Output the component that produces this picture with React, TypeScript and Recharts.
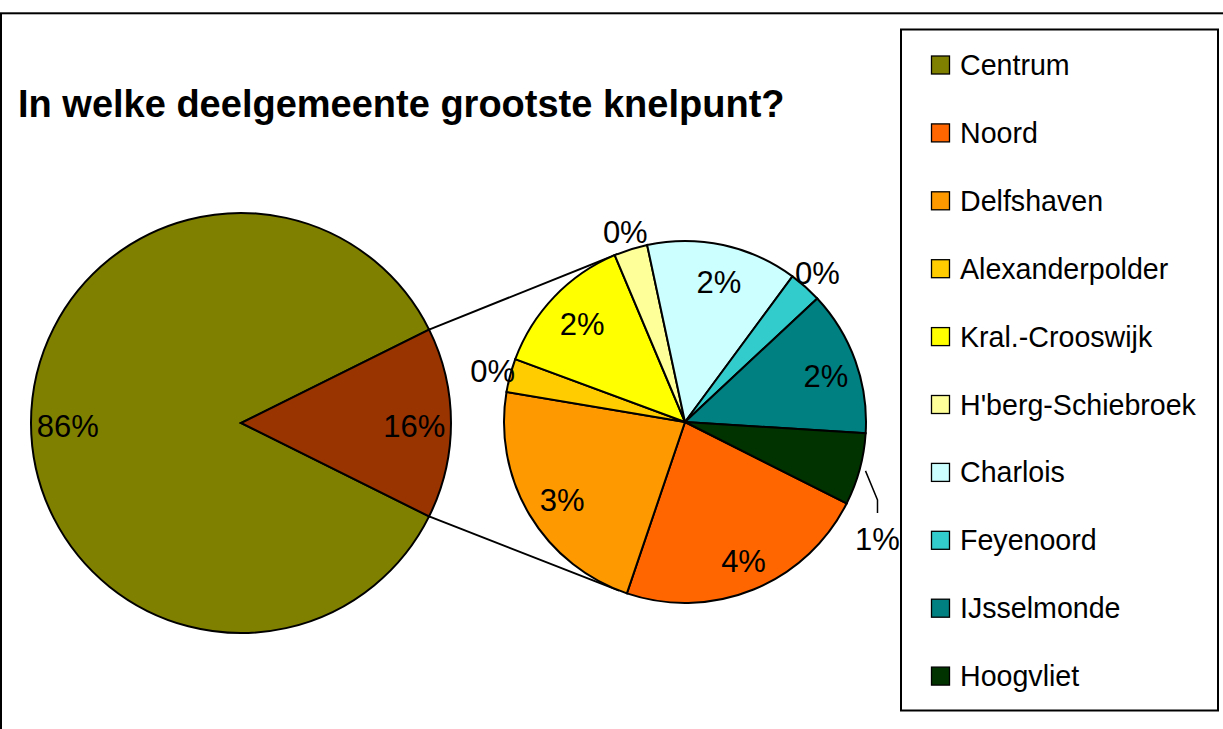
import React from 'react';
import { PieChart, Pie, Cell, Customized } from 'recharts';

const FONT = '"Liberation Sans", Arial, Helvetica, sans-serif';

const titleText = 'In welke deelgemeente grootste knelpunt?';

const mainNames = ['Centrum', 'Overige'];
const mainValues = [85.33, 14.67];
const mainLabels = ['86%', '16%'];
const mainColors = ['#808000', '#993300'];

const subNames = [
  'Noord',
  'Delfshaven',
  'Alexanderpolder',
  'Kral.-Crooswijk',
  "H'berg-Schiebroek",
  'Charlois',
  'Feyenoord',
  'IJsselmonde',
  'Hoogvliet',
];
const subValues = [3.5, 3.45, 0.46, 2.0, 0.46, 2.07, 0.45, 1.99, 0.99];
const subLabels = ['4%', '3%', '0%', '2%', '0%', '2%', '0%', '2%', '1%'];
const subColors = [
  '#FF6600',
  '#FF9900',
  '#FFCC00',
  '#FFFF00',
  '#FFFF99',
  '#CCFFFF',
  '#33CCCC',
  '#008080',
  '#003300',
];

const legendNames = [mainNames[0], ...subNames];
const legendColors = [mainColors[0], ...subColors];

const mainData = mainNames.map((name, i) => ({ name, value: mainValues[i], label: mainLabels[i] }));
const subData = subNames.map((name, i) => ({ name, value: subValues[i], label: subLabels[i] }));

// geometry (style)
const W = 1223;
const H = 729;
const MAIN = { cx: 241, cy: 423, r: 210 };
const SUB = { cx: 685, cy: 422, r: 181 };
const SUB_START = -26.75;
const LABEL_FS = 31;
const STROKE = 2;

const mainTotal = mainValues.reduce((a, b) => a + b, 0);
const otherSpan = (mainValues[1] / mainTotal) * 360;
const MAIN_START = otherSpan / 2;
const subTotal = subValues.reduce((a, b) => a + b, 0);

const RAD = Math.PI / 180;
const polar = (cx: number, cy: number, r: number, a: number) => ({
  x: cx + r * Math.cos(-a * RAD),
  y: cy + r * Math.sin(-a * RAD),
});

const labelText = (key: string, x: number, y: number, txt: string) => (
  <text
    key={key}
    x={x}
    y={y + 0.358 * LABEL_FS}
    textAnchor="middle"
    fontFamily={FONT}
    fontSize={LABEL_FS}
    fill="#000"
  >
    {txt}
  </text>
);

const renderMainLabel = (props: any) => {
  const { midAngle, index } = props;
  const p = polar(MAIN.cx, MAIN.cy, MAIN.r * 0.825, midAngle);
  return labelText(`ml-${index}`, p.x, p.y + 3, mainData[index].label);
};

const renderSubLabel = (props: any) => {
  const { midAngle, index } = props;
  const share = subValues[index] / subTotal;
  const txt = subData[index].label;
  if (share < 0.04) {
    const p = polar(SUB.cx, SUB.cy, SUB.r + 18, midAngle);
    return labelText(`sl-${index}`, p.x, p.y, txt);
  }
  if (share < 0.1) {
    const s = polar(SUB.cx, SUB.cy, SUB.r + 6, midAngle);
    const e = { x: s.x + 12, y: s.y + 29 };
    const f = { x: e.x, y: e.y + 13 };
    return (
      <g key={`sl-${index}`}>
        <polyline
          points={`${s.x},${s.y} ${e.x},${e.y} ${f.x},${f.y}`}
          fill="none"
          stroke="#000"
          strokeWidth={1.5}
        />
        {labelText(`slt-${index}`, f.x, f.y + 26, txt)}
      </g>
    );
  }
  const p = polar(SUB.cx, SUB.cy, SUB.r * 0.81, midAngle);
  return labelText(`sl-${index}`, p.x + 3, p.y + 3, txt);
};

const tangent = (P: { x: number; y: number }, upper: boolean) => {
  const dx = P.x - SUB.cx;
  const dy = P.y - SUB.cy;
  const L = Math.hypot(dx, dy);
  const phi = Math.atan2(dy, dx);
  const alpha = Math.acos(SUB.r / L);
  const t1 = { x: SUB.cx + SUB.r * Math.cos(phi + alpha), y: SUB.cy + SUB.r * Math.sin(phi + alpha) };
  const t2 = { x: SUB.cx + SUB.r * Math.cos(phi - alpha), y: SUB.cy + SUB.r * Math.sin(phi - alpha) };
  if (upper) return t1.y < t2.y ? t1 : t2;
  return t1.y > t2.y ? t1 : t2;
};

const Connectors = () => {
  const pu = polar(MAIN.cx, MAIN.cy, MAIN.r, otherSpan / 2);
  const pl = polar(MAIN.cx, MAIN.cy, MAIN.r, -otherSpan / 2);
  const tu = tangent(pu, true);
  const tl = tangent(pl, false);
  return (
    <g>
      <line x1={pu.x} y1={pu.y} x2={tu.x} y2={tu.y} stroke="#000" strokeWidth={STROKE} />
      <line x1={pl.x} y1={pl.y} x2={tl.x} y2={tl.y} stroke="#000" strokeWidth={STROKE} />
    </g>
  );
};

const Frame = () => {
  const rowY0 = 65;
  const rowStep = 67.9;
  return (
    <g>
      <rect x={1} y={13.3} width={W + 50} height={H + 50} fill="none" stroke="#000" strokeWidth={2} />
      <text x={18} y={117} fontFamily={FONT} fontSize={38} fontWeight="bold" fill="#000">
        {titleText}
      </text>
      <rect x={901} y={29.5} width={317} height={681} fill="#fff" stroke="#000" strokeWidth={2} />
      {legendNames.map((n, i) => {
        const cy = rowY0 + i * rowStep;
        return (
          <g key={n}>
            <rect x={931.5} y={cy - 9} width={18} height={18} fill={legendColors[i]} stroke="#000" strokeWidth={1.3} />
            <text x={960} y={cy + 10} fontFamily={FONT} fontSize={28.6} fill="#000">
              {n}
            </text>
          </g>
        );
      })}
    </g>
  );
};

export default function App() {
  return (
    <div style={{ position: 'absolute', left: 0, top: 0, width: W, height: H, background: '#fff' }}>
      <PieChart width={W} height={H} margin={{ top: 0, right: 0, bottom: 0, left: 0 }}>
        <Customized component={<Frame />} />
        <Customized component={<Connectors />} />
        <Pie
          data={mainData}
          dataKey="value"
          nameKey="name"
          cx={MAIN.cx}
          cy={MAIN.cy}
          outerRadius={MAIN.r}
          startAngle={MAIN_START}
          endAngle={MAIN_START + 360}
          stroke="#000"
          strokeWidth={STROKE}
          label={renderMainLabel}
          labelLine={false}
          isAnimationActive={false}
        >
          {mainData.map((d, i) => (
            <Cell key={d.name} fill={mainColors[i]} />
          ))}
        </Pie>
        <Pie
          data={subData}
          dataKey="value"
          nameKey="name"
          cx={SUB.cx}
          cy={SUB.cy}
          outerRadius={SUB.r}
          startAngle={SUB_START}
          endAngle={SUB_START - 360}
          stroke="#000"
          strokeWidth={STROKE}
          label={renderSubLabel}
          labelLine={false}
          isAnimationActive={false}
        >
          {subData.map((d, i) => (
            <Cell key={d.name} fill={subColors[i]} />
          ))}
        </Pie>
      </PieChart>
    </div>
  );
}
